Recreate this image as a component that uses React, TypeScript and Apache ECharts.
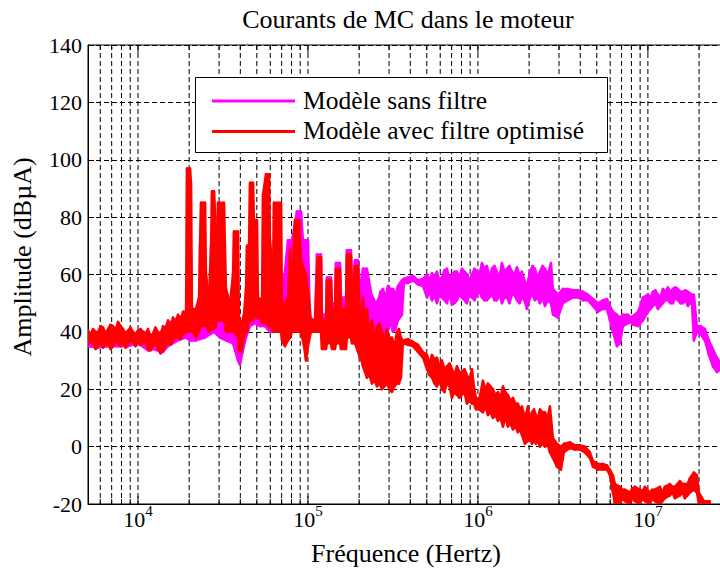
import React, { useEffect, useRef } from 'react';
import * as echarts from 'echarts';

type Pt = [number, number, number]; // [fréquence Hz, bas dBµA, haut dBµA]

const titre = 'Courants de MC dans le moteur';
const nomX = 'Fréquence (Hertz)';
const nomY = 'Amplitude (dBµA)';
const legendeSans = 'Modèle sans filtre';
const legendeAvec = 'Modèle avec filtre optimisé';

const freqMin = 5080;
const freqMax = 3e7;
const ampMin = -20;
const ampMax = 140;
const ampPas = 20;
const decades = [1e3, 1e4, 1e5, 1e6, 1e7];
const multiples = [1, 2, 3, 4, 5, 6, 7, 8, 9];

// ---- Modèle avec filtre optimisé (rouge) ----
const avecBasse: Pt[] = [
  [5080, 35.5, 40.5], [5255, 37, 39], [5437, 36, 41], [5624, 34, 40], [5818, 35, 40],
  [6019, 36.5, 42], [6226, 34.5, 41.5], [6440, 35.5, 39.5], [6662, 36, 41], [6892, 34, 42.5],
  [7129, 35, 42], [7375, 37, 40], [7629, 36, 43.5], [7892, 35, 42], [8164, 36.5, 41],
  [8445, 34.5, 39.5], [8736, 35.5, 40.5], [9037, 37, 41.5], [9348, 36.5, 40], [9669, 35, 39],
  [10000, 37, 40.5], [10344, 35.5, 41], [10701, 36, 40], [11070, 36.5, 38.5], [11451, 34, 41],
  [11846, 33.5, 38], [12254, 35, 39.5], [12676, 36, 41.5], [13111, 34, 40], [13563, 32.5, 38],
  [14031, 33.5, 42], [14514, 35, 40.5], [15014, 36, 44], [15531, 35.5, 41], [16066, 37, 45],
  [16620, 38, 43], [17193, 38, 46], [17786, 37.5, 44], [18398, 39, 47],
];
const avecPics: Pt[] = [
  [19162, 40, 47], [19424, 40, 97], [20225, 40, 97], [20500, 40, 92], [20781, 40, 48],
  [21940, 38, 48], [22851, 40, 52], [23162, 42, 70], [23480, 42, 85], [24787, 42, 85],
  [25130, 42, 60], [26167, 40, 52], [26884, 41, 70], [27249, 41, 89], [28000, 41, 89],
  [28761, 42, 76], [29151, 44, 62], [29560, 44, 85], [32055, 44, 85], [32935, 40, 55],
  [34768, 40, 50], [36211, 40, 60], [36700, 40, 75], [38749, 38, 75], [39280, 33, 45],
  [40353, 33, 42], [42000, 38, 46], [43179, 40, 55], [43767, 40, 70], [44970, 44, 70],
  [45591, 44, 92], [47481, 44, 92], [48129, 45, 79], [50119, 45, 79], [50809, 46, 52],
  [53647, 43, 51], [54370, 43, 88], [56620, 43, 95], [58977, 42, 95], [59781, 42, 72],
  [62259, 40, 60], [63096, 40, 85], [69377, 40, 85], [70322, 37, 50], [73230, 35, 50],
  [76289, 37, 52], [78370, 38, 69], [80508, 40, 55], [83854, 40, 79], [88553, 40, 79],
  [90986, 40, 65], [94767, 35, 62], [97333, 30, 60], [100000, 35, 55], [104150, 40, 44],
  [109950, 40, 44], [112970, 40, 60], [114510, 40, 66], [119260, 40, 66], [120880, 34, 45],
  [127620, 34, 42], [129360, 36, 58], [136550, 36, 58], [138410, 34, 48], [144150, 34, 47],
  [146120, 36, 62], [154260, 36, 62], [156370, 34, 48], [167320, 34, 48], [169600, 38, 67],
  [179050, 38, 67], [181500, 36, 50], [189040, 36, 63], [196870, 33, 63],
];
const avecPente: Pt[] = [
  [202250, 31, 45], [206400, 30, 40], [210670, 28, 52], [216460, 26, 44], [222400, 24, 48],
  [230070, 25, 40], [238000, 22, 44], [246190, 23, 38], [254660, 21, 42], [263420, 22, 43],
  [272490, 20, 40], [281840, 21, 37], [291510, 22, 41], [301560, 20, 38], [311960, 19, 38],
  [322710, 21, 35], [333830, 22, 40], [343000, 22, 41], [352420, 24, 38],
  [362110, 36, 37], [387490, 35.5, 37.5], [414650, 35, 36.5], [443710, 33, 35.5], [474810, 31, 33],
  [501190, 27, 32], [518530, 25, 29], [536470, 24, 32], [554880, 22, 30.5], [573930, 21, 31],
  [593740, 23, 28], [614230, 20, 30], [635350, 19, 27], [657190, 22, 28], [679820, 21, 29],
  [703220, 17, 27], [727400, 19, 25], [752400, 18, 28], [778300, 17, 26], [805080, 18, 26],
  [832830, 19, 27], [861560, 15, 25], [891390, 16, 23], [922250, 15, 27], [947430, 15, 21],
  [973330, 13, 17], [1013600, 13, 16], [1070100, 12, 23], [1107000, 14, 20], [1145100, 11, 22],
  [1184600, 12, 21], [1225400, 10, 20], [1267500, 11, 18], [1311100, 9, 19], [1356300, 10, 17],
  [1403100, 7, 21], [1451400, 10, 19], [1501400, 7, 18], [1553100, 8, 16], [1606600, 6, 17],
  [1662000, 7, 15], [1719300, 5, 15], [1766500, 6, 13], [1815000, 4, 14], [1890400, 1, 10],
  [1968700, 2, 14], [2022700, 3, 9], [2078100, 1, 12], [2135300, 2, 13], [2194000, 1, 11],
  [2254300, 2, 10], [2316200, 0, 13], [2396100, 1, 12], [2478700, 0, 12], [2564000, 1, 10],
  [2652300, -2, 14], [2762400, -4, 3], [2915100, -7, 1],
  [3080000, -8, 0], [3205500, -2, 1], [3476800, -0.5, 1.5], [3720500, -1, 0.5], [3981100, -1, 0.5],
  [4259800, -2, 0], [4559100, -4, -2], [4748100, -7, -5], [5080900, -8, -6], [5437000, -8, -6],
  [5739300, -8, -6.5], [5978100, -10, -8],
];
const avecPlancher: Pt[] = [
  [6225900, -16, -10], [6396300, -20, -13], [6844300, -20, -14], [7080000, -18, -15],
  [7323000, -19, -15], [7837000, -20, -16], [8107000, -18, -14.5], [8385400, -19, -14],
  [8976000, -20, -15], [9286000, -18, -15.5], [9605600, -19, -14], [10275000, -20, -16],
  [10629000, -18, -15], [10995000, -19, -15], [11765000, -20, -14], [12170000, -19, -16],
  [12590000, -18, -14], [13471000, -17, -13], [13935000, -16, -14], [14415000, -18, -14],
  [15426000, -17, -12], [15957000, -16, -13], [16507000, -18, -13], [17075000, -17, -13],
  [17664000, -16, -11], [18649000, -15, -9], [19424000, -16, -10], [19954000, -20, -16],
  [21350000, -20, -19], [23162000, -20, -19],
];

// ---- Modèle sans filtre (magenta) ----
const sansBasse: Pt[] = [
  [5080, 35, 39], [5818, 34.5, 39], [6662, 35, 40], [7629, 35, 42], [8736, 35, 39],
  [9348, 35.5, 39], [10000, 36, 40], [11451, 33.5, 40], [12254, 34, 38], [13111, 33.5, 39],
  [14031, 33, 41], [15014, 35, 43], [17193, 37, 45], [19162, 38, 46], [20225, 37, 46],
  [21940, 37, 45], [24787, 38, 46], [28000, 40, 47], [30365, 38, 46], [32935, 37, 44],
  [36211, 36, 44], [38749, 30, 42], [39811, 28.5, 40], [40904, 32, 42], [43179, 38, 45],
  [45591, 42, 52], [48787, 43, 55], [52200, 42, 48], [55862, 42, 52], [59781, 40, 50],
  [63963, 40, 49], [68443, 40, 60], [72260, 40, 58], [76289, 40, 72], [80508, 40, 72],
  [83854, 40, 78], [86156, 40, 82],
];
const sansMilieu: Pt[] = [
  [88553, 40, 82], [90986, 42, 82], [93480, 40, 72], [100000, 42, 72], [102750, 41, 45],
  [109950, 41, 44], [112970, 41, 67], [119260, 41, 67], [120880, 38, 46], [127620, 38, 46],
  [129360, 40, 59], [136550, 40, 59], [138410, 38, 50], [144150, 38, 50], [146120, 40, 64],
  [154260, 40, 64], [156370, 40, 52], [167320, 40, 52], [169600, 42, 68.5], [179050, 42, 68.5],
  [181500, 40, 55], [189040, 40, 65], [196870, 40, 65], [202250, 36, 55], [210670, 38, 62],
  [222400, 37, 62], [231620, 45, 56], [236380, 42, 53], [241240, 40, 52], [249550, 38, 50],
  [258150, 39, 51], [267040, 41, 54], [276240, 40, 55], [285760, 39, 52], [295600, 41, 56],
  [305740, 43, 55], [316230, 40, 55], [327120, 41, 53], [338390, 44, 56], [347690, 45, 57],
  [357240, 46, 58],
];
const sansPlateau: Pt[] = [
  [367000, 57, 58.5], [387490, 57, 59], [414650, 58, 59.5], [443710, 56.5, 58], [474810, 56, 58.5],
  [501190, 52, 60], [518530, 54, 58], [536470, 51, 60.5], [554880, 52.5, 59], [573930, 50, 61],
  [593740, 53, 58], [614230, 52, 59], [635350, 51, 61.5], [657190, 50, 62], [679820, 53, 58.5],
  [703220, 49.5, 60], [727400, 50, 61], [752400, 51, 61], [778300, 53, 59], [805080, 52, 62],
  [832830, 51, 61], [861560, 50, 60], [891390, 53, 58], [922250, 52, 60], [953880, 51, 62],
  [986600, 53, 61], [1020600, 54, 60], [1055700, 52, 64], [1092100, 51, 62], [1129700, 51, 63],
  [1168600, 52, 59], [1208800, 53, 62], [1250500, 51, 63], [1293600, 51, 61], [1338100, 53, 59],
  [1384100, 50, 64], [1431800, 52, 61], [1481100, 52, 62], [1532200, 50, 63], [1585000, 53, 61],
  [1639600, 53, 60], [1696000, 51, 62.5], [1754500, 50, 60], [1815000, 52, 61], [1877600, 51, 58],
  [1942400, 48, 56], [2022500, 52, 61], [2092300, 53, 63], [2164600, 51, 62], [2239100, 52, 59],
  [2316200, 50, 61], [2396100, 52, 63], [2478700, 49, 62], [2581300, 51, 60], [2688400, 50, 64],
  [2762400, 46, 55], [2956000, 45, 53], [3162300, 50, 55], [3383900, 51, 55],
  [3621100, 52, 54.5], [3874900, 52, 54.5], [4146500, 51, 54], [4437100, 51, 53], [4748100, 49, 51.5],
  [5080900, 47, 50], [5437000, 48, 51], [5739300, 48, 51.5], [5978100, 44, 49],
];
const sansHaute: Pt[] = [
  [6225900, 40, 47], [6571900, 35, 46], [6844300, 36, 45], [7129200, 42, 46], [7628900, 43, 46],
  [7891800, 43.5, 45], [8163600, 42.5, 45.5], [8735700, 42, 47], [9036700, 43, 49], [9348000, 44, 52],
  [10000000, 47, 53], [10345000, 48, 52], [10701000, 49, 54], [11070000, 50, 54.5], [11451000, 48, 53],
  [11846000, 49, 52], [12254000, 50, 55], [12676000, 51, 54], [13111000, 51, 55.5], [13563000, 50, 54],
  [14031000, 50, 55], [14514000, 52, 55.5], [15014000, 51, 55], [15531000, 50, 54], [16066000, 50, 54],
  [16620000, 51, 54.5], [17193000, 49, 54], [17665000, 50, 53.5], [18150000, 50, 53], [18649000, 37, 53],
  [19424000, 40, 42], [20500000, 39, 42], [21646000, 37, 41], [22851000, 32, 37], [24124000, 28, 34],
  [25466000, 26, 31], [26884000, 27, 29], [28374000, 26, 28],
];

const FONT = "'Liberation Serif', 'Times New Roman', serif";
const MAGENTA = '#ff00ff';
const ROUGE = '#ff0000';

function bande(name: string, data: Pt[], color: string) {
  return {
    type: 'custom',
    name,
    data,
    clip: true,
    silent: true,
    z: 3,
    encode: { x: 0, y: [1, 2] },
    renderItem: (params: any, api: any) => {
      const i = params.dataIndex;
      if (i >= data.length - 1) return null;
      const a = data[i];
      const b = data[i + 1];
      const pts = [
        api.coord([a[0], a[2]]),
        api.coord([b[0], b[2]]),
        api.coord([b[0], b[1]]),
        api.coord([a[0], a[1]]),
      ];
      return {
        type: 'polygon',
        shape: { points: pts },
        style: { fill: color, stroke: color, lineWidth: 2.4, lineJoin: 'round' },
      };
    },
  };
}

export default function App() {
  const ref = useRef<HTMLDivElement>(null);

  useEffect(() => {
    if (!ref.current) return;
    document.documentElement.style.overflow = 'hidden';
    document.body.style.overflow = 'hidden';
    const chart = echarts.init(ref.current, undefined, { renderer: 'svg' });

    const sans = [...sansBasse, ...sansMilieu, ...sansPlateau, ...sansHaute];
    const avec = [...avecBasse, ...avecPics, ...avecPente, ...avecPlancher];

    const grilleX: number[][] = [];
    decades.forEach((d) =>
      multiples.forEach((m, j) => {
        const f = d * m;
        if (f > freqMin && f < freqMax) grilleX.push([f, j === 0 ? 1 : 0]);
      })
    );

    const txt = (size: number) => `${size}px ${FONT}`;

    const option: any = {
      animation: false,
      backgroundColor: '#fff',
      textStyle: { fontFamily: FONT },
      grid: {
        left: 88,
        top: 45,
        width: 641,
        height: 459,
        show: true,
        borderColor: '#000',
        borderWidth: 1,
        backgroundColor: '#fff',
      },
      xAxis: {
        type: 'log',
        logBase: 10,
        min: freqMin,
        max: freqMax,
        axisLine: { show: true, onZero: false, lineStyle: { color: '#000', width: 1 } },
        axisTick: { show: false },
        splitLine: { show: false },
        axisLabel: {
          margin: 4,
          color: '#000',
          fontFamily: FONT,
          formatter: (v: number) => {
            const e = Math.log10(v);
            const r = Math.round(e);
            return Math.abs(e - r) < 1e-6 ? `{b|10}{s|${r}}` : '';
          },
          rich: {
            b: { fontSize: 22, fontFamily: FONT, color: '#000', lineHeight: 22, verticalAlign: 'bottom' },
            s: { fontSize: 15, fontFamily: FONT, color: '#000', lineHeight: 15, padding: [0, 0, 12, 0], verticalAlign: 'bottom' },
          },
        },
      },
      yAxis: {
        type: 'value',
        min: ampMin,
        max: ampMax,
        interval: ampPas,
        axisLine: { show: true, lineStyle: { color: '#000', width: 1 } },
        axisTick: { show: true, inside: true, length: 6, lineStyle: { color: '#000' } },
        axisLabel: { color: '#000', fontSize: 22, fontFamily: FONT, margin: 6 },
        splitLine: { show: true, lineStyle: { color: '#000', type: [5, 3], width: 1 } },
      },
      series: [
        {
          type: 'custom',
          data: grilleX,
          silent: true,
          z: 1,
          encode: { x: 0, y: 1 },
          renderItem: (params: any, api: any) => {
            const f = api.value(0);
            const major = api.value(1) === 1;
            const haut = api.coord([f, ampMax]);
            const bas = api.coord([f, ampMin]);
            const tl = major ? 8 : 5;
            return {
              type: 'group',
              children: [
                { type: 'line', shape: { x1: haut[0], y1: haut[1], x2: bas[0], y2: bas[1] }, style: { stroke: '#000', lineWidth: 1, lineDash: [5, 3] } },
                { type: 'line', shape: { x1: bas[0], y1: bas[1], x2: bas[0], y2: bas[1] - tl }, style: { stroke: '#000', lineWidth: 1 } },
                { type: 'line', shape: { x1: haut[0], y1: haut[1], x2: haut[0], y2: haut[1] + tl }, style: { stroke: '#000', lineWidth: 1 } },
              ],
            };
          },
        },
        bande(legendeSans, sans, MAGENTA),
        bande(legendeAvec, avec, ROUGE),
      ],
      graphic: [
        { type: 'text', x: 408, y: 19, z: 100, style: { text: titre, font: txt(26), fill: '#000', textAlign: 'center', textVerticalAlign: 'middle' } },
        { type: 'text', x: 406, y: 553, z: 100, style: { text: nomX, font: txt(26), fill: '#000', textAlign: 'center', textVerticalAlign: 'middle' } },
        { type: 'text', x: 22, y: 257, rotation: Math.PI / 2, z: 100, style: { text: nomY, font: txt(26), fill: '#000', textAlign: 'center', textVerticalAlign: 'middle' } },
        { type: 'rect', z: 100, shape: { x: 195.5, y: 77.5, width: 412, height: 75 }, style: { fill: '#fff', stroke: '#000', lineWidth: 1 } },
        { type: 'line', z: 101, shape: { x1: 212, y1: 101, x2: 295, y2: 101 }, style: { stroke: MAGENTA, lineWidth: 3 } },
        { type: 'line', z: 101, shape: { x1: 212, y1: 131.5, x2: 295, y2: 131.5 }, style: { stroke: ROUGE, lineWidth: 3 } },
        { type: 'text', z: 101, x: 303, y: 100, style: { text: legendeSans, font: txt(25.5), fill: '#000', textAlign: 'left', textVerticalAlign: 'middle' } },
        { type: 'text', z: 101, x: 303, y: 130, style: { text: legendeAvec, font: txt(25.5), fill: '#000', textAlign: 'left', textVerticalAlign: 'middle' } },
      ],
    };

    chart.setOption(option);
    return () => chart.dispose();
  }, []);

  return (
    <div
      ref={ref}
      style={{ position: 'fixed', left: 0, top: 0, width: 740, height: 569, background: '#fff' }}
    />
  );
}
